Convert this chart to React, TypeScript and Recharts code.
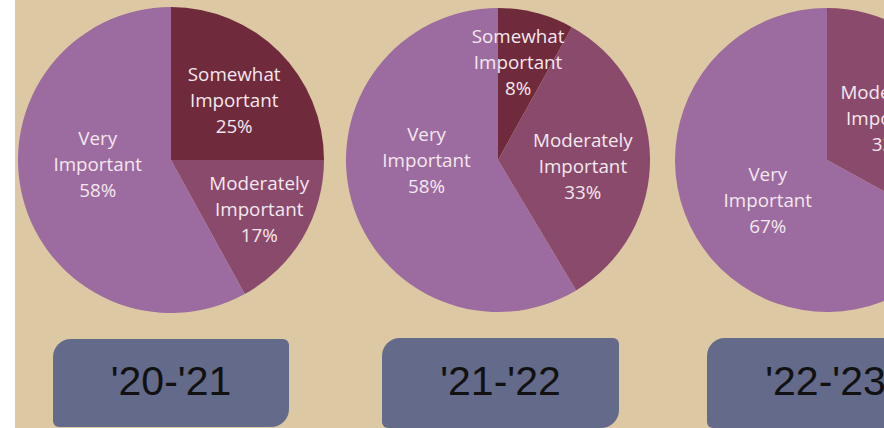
import React from 'react';
import { PieChart, Pie, Cell } from 'recharts';

const seasons = ["'20-'21", "'21-'22", "'22-'23"];
const somewhatImportant = [25, 8, 0];
const moderatelyImportant = [17, 33, 33];
const veryImportant = [58, 58, 67];

const COLORS: Record<string, string> = {
  'Somewhat Important': '#6f2a3c',
  'Moderately Important': '#8a4a6b',
  'Very Important': '#9c6b9f',
};

// label placement tweaks (fraction of radius, angle nudge in degrees)
const LABEL_PLACEMENT: Record<string, { f: number; da: number }>[] = [
  { 'Somewhat Important': { f: 0.57, da: -1.4 }, 'Moderately Important': { f: 0.66, da: 1.5 }, 'Very Important': { f: 0.48, da: -11 } },
  { 'Somewhat Important': { f: 0.66, da: 3 }, 'Moderately Important': { f: 0.56, da: -5.2 }, 'Very Important': { f: 0.47, da: -15.6 } },
  { 'Moderately Important': { f: 0.5, da: 3 }, 'Very Important': { f: 0.47, da: 3.5 } },
];

const PIE_GEOM = [
  { cx: 171, cy: 160, r: 153 },
  { cx: 498, cy: 160, r: 152 },
  { cx: 827, cy: 160, r: 152 },
];

const BOXES = [
  { left: 53, top: 339, width: 236, height: 88 },
  { left: 382, top: 338, width: 237, height: 90 },
  { left: 707, top: 338, width: 237, height: 90 },
];

function buildData(i: number) {
  return [
    { name: 'Somewhat Important', value: somewhatImportant[i] },
    { name: 'Moderately Important', value: moderatelyImportant[i] },
    { name: 'Very Important', value: veryImportant[i] },
  ].filter((d) => d.value > 0);
}

const RAD = Math.PI / 180;

function makeLabel(pieIndex: number) {
  return (props: any) => {
    const { cx, cy, midAngle, outerRadius, name, value } = props;
    const pl = LABEL_PLACEMENT[pieIndex][name] || { f: 0.6, da: 0 };
    const a = (midAngle + pl.da) * RAD;
    const r = outerRadius * pl.f;
    const x = cx + r * Math.cos(a);
    const y = cy - r * Math.sin(a);
    const words = String(name).split(' ');
    const lines = [words[0], words[1], `${value}%`];
    return (
      <g>
        {lines.map((t, k) => (
          <text
            key={k}
            x={x}
            y={y + (k - 1) * 26}
            textAnchor="middle"
            dominantBaseline="central"
            fill="#f4e8ef"
            fontFamily="'Open Sans', sans-serif"
            fontSize={18.8}
          >
            {t}
          </text>
        ))}
      </g>
    );
  };
}

export default function App() {
  return (
    <div
      style={{
        position: 'absolute',
        left: 0,
        top: 0,
        width: 884,
        height: 428,
        overflow: 'hidden',
        background: '#ffffff',
      }}
    >
      <div
        style={{
          position: 'absolute',
          left: 15,
          top: 0,
          width: 869,
          height: 428,
          background: '#dcc9a3',
        }}
      />
      <div style={{ position: 'absolute', left: 0, top: 0 }}>
        <PieChart width={884} height={428} margin={{ top: 0, right: 0, bottom: 0, left: 0 }}>
          {PIE_GEOM.map((g, i) => (
            <Pie
              key={i}
              data={buildData(i)}
              dataKey="value"
              nameKey="name"
              cx={g.cx}
              cy={g.cy}
              outerRadius={g.r}
              innerRadius={0}
              startAngle={90}
              endAngle={-270}
              stroke="none"
              isAnimationActive={false}
              labelLine={false}
              label={makeLabel(i)}
            >
              {buildData(i).map((d) => (
                <Cell key={d.name} fill={COLORS[d.name]} />
              ))}
            </Pie>
          ))}
        </PieChart>
      </div>
      {seasons.map((s, i) => (
        <div
          key={s}
          style={{
            position: 'absolute',
            left: BOXES[i].left,
            top: BOXES[i].top,
            width: BOXES[i].width,
            height: BOXES[i].height,
            background: '#636a8a',
            borderRadius: '18px 6px 18px 6px',
            display: 'flex',
            alignItems: 'center',
            justifyContent: 'center',
            fontFamily: "'Liberation Sans', Arial, sans-serif",
            fontSize: 41,
            color: '#111111',
            paddingBottom: 4,
            boxSizing: 'border-box',
          }}
        >
          {s}
        </div>
      ))}
    </div>
  );
}
